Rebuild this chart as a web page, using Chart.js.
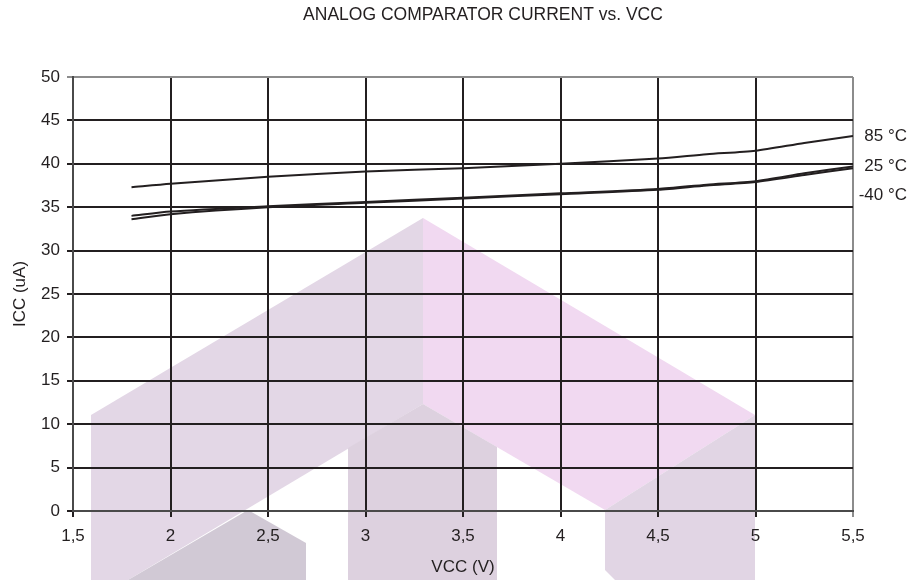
<!DOCTYPE html>
<html>
<head>
<meta charset="utf-8">
<script src="https://cdn.jsdelivr.net/npm/chart.js@4.4.1/dist/chart.umd.min.js"></script>
<style>
  body { margin: 0; background: #fff; }
  #wrap { width: 911px; height: 580px; }
</style>
</head>
<body>
<div id="wrap"><canvas id="graf" width="911" height="580"></canvas></div>
<script>
// --- DATA ---
const vcc = [1.8, 2, 2.5, 3, 3.5, 4, 4.5, 4.75, 5, 5.25, 5.5];
const icc85 = [37.3, 37.7, 38.5, 39.1, 39.5, 40.0, 40.6, 41.1, 41.5, 42.4, 43.2];
const icc25 = [34.0, 34.5, 35.1, 35.6, 36.1, 36.6, 37.1, 37.6, 38.0, 38.9, 39.7];
const iccMinus40 = [33.6, 34.2, 35.0, 35.5, 36.0, 36.5, 37.0, 37.5, 37.9, 38.7, 39.5];
const nazvySerii = ['85 °C', '25 °C', '-40 °C'];

const TITULEK = 'ANALOG COMPARATOR CURRENT vs. VCC';
const OSA_X = 'VCC (V)';
const OSA_Y = 'ICC (uA)';

const PISMO = 'Liberation Sans, Arial, Helvetica, sans-serif';
const CERNA = '#231f20';
const SEDA = '#8c8c8c';

function body(hodnoty) { return vcc.map((x, i) => ({ x: x, y: hodnoty[i] })); }

// vodoznak v pozadi (dekorace)
const vodoznak = {
    id: 'vodoznak',
    beforeDraw(chart) {
        const c = chart.ctx;
        c.save();
        c.fillStyle = '#fff';
        c.fillRect(0, 0, chart.width, chart.height);
        const tvar = (barva, pts) => {
            c.fillStyle = barva;
            c.beginPath();
            pts.forEach((p, i) => i ? c.lineTo(p[0], p[1]) : c.moveTo(p[0], p[1]));
            c.closePath();
            c.fill();
        };
        tvar('rgb(227,215,230)', [[91, 580], [91, 415], [423, 218], [423, 404], [128, 580]]);
        tvar('rgb(241,217,241)', [[423, 218], [755, 415], [605, 510], [423, 404]]);
        tvar('rgb(221,209,223)', [[348, 448], [423, 404], [497, 447], [497, 580], [348, 580]]);
        tvar('rgb(225,213,228)', [[605, 510], [755, 415], [755, 580], [615, 580], [605, 570]]);
        tvar('rgb(209,201,213)', [[128, 580], [248, 510], [306, 543], [306, 580]]);
        c.restore();
    }
};

// texty: titulek, popisky os, popisky krivek
const popisky = {
    id: 'popisky',
    afterDraw(chart) {
        const c = chart.ctx;
        const a = chart.chartArea;
        c.save();
        c.fillStyle = CERNA;
        c.textBaseline = 'middle';
        c.textAlign = 'center';
        c.font = '17.5px ' + PISMO;
        c.fillText(TITULEK, a.left + 410, 15);
        c.font = '17px ' + PISMO;
        c.fillText(OSA_X, (a.left + a.right) / 2, 567);
        c.save();
        c.translate(20, (a.top + a.bottom) / 2);
        c.rotate(-Math.PI / 2);
        c.fillText(OSA_Y, 0, 0);
        c.restore();

        c.textAlign = 'right';
        let posledniY = -Infinity;
        chart.data.datasets.forEach((ds, i) => {
            const meta = chart.getDatasetMeta(i);
            const bod = meta.data[meta.data.length - 1];
            let y = Math.max(bod.y, posledniY + 29);
            c.fillText(ds.label, a.right + 54, y);
            posledniY = y;
        });
        c.restore();
    }
};

const carova = (label, hodnoty) => ({
    label: label,
    data: body(hodnoty),
    borderColor: CERNA,
    borderWidth: 2,
    pointRadius: 0,
    tension: 0.25,
    fill: false
});

const mujGraf = new Chart(document.getElementById('graf'), {
    type: 'line',
    data: {
        datasets: [
            carova(nazvySerii[0], icc85),
            carova(nazvySerii[1], icc25),
            carova(nazvySerii[2], iccMinus40)
        ]
    },
    options: {
        responsive: false,
        animation: false,
        layout: { padding: { top: 77, right: 58, left: 0, bottom: 0 } },
        plugins: {
            legend: { display: false },
            title: { display: false },
            tooltip: { enabled: false }
        },
        scales: {
            x: {
                type: 'linear',
                min: 1.5,
                max: 5.5,
                afterFit(s) { s.height = 69; },
                ticks: {
                    stepSize: 0.5,
                    color: CERNA,
                    padding: 9,
                    maxRotation: 0,
                    font: { family: PISMO, size: 17 },
                    callback: v => String(v).replace('.', ',')
                },
                grid: {
                    color: ctx => (ctx.tick && ctx.tick.value === 5.5) ? SEDA : CERNA,
                    lineWidth: 2,
                    tickLength: 6
                },
                border: { color: '#4a4a4a', width: 2 }
            },
            y: {
                min: 0,
                max: 50,
                afterFit(s) { s.width = 73; },
                ticks: {
                    stepSize: 5,
                    color: CERNA,
                    padding: 7,
                    font: { family: PISMO, size: 17 }
                },
                grid: {
                    color: ctx => (ctx.tick && ctx.tick.value === 50) ? SEDA : CERNA,
                    lineWidth: 2,
                    tickLength: 6
                },
                border: { color: '#4a4a4a', width: 2 }
            }
        }
    },
    plugins: [vodoznak, popisky]
});
</script>
</body>
</html>
